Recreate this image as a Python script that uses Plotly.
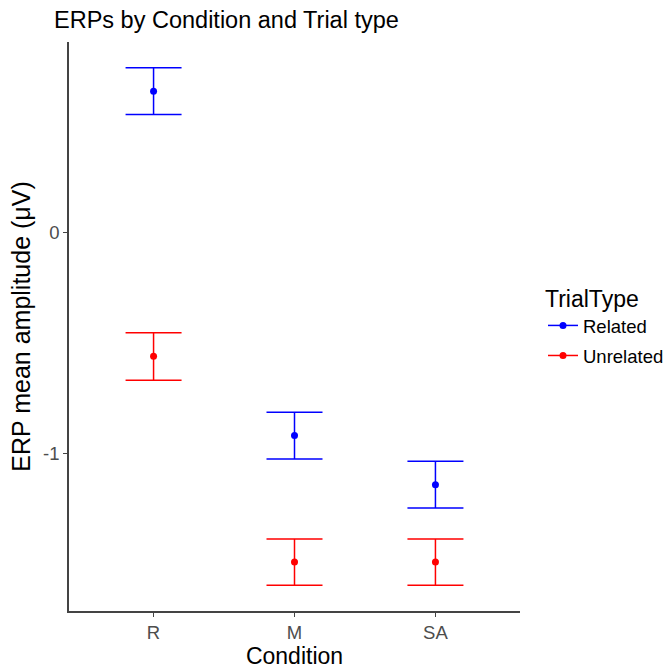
import plotly.graph_objects as go

# ---- data ----
conditions = ["R", "M", "SA"]
related_mean = [0.636, -0.918, -1.140]
related_upper = [0.742, -0.813, -1.034]
related_lower = [0.531, -1.024, -1.245]
unrelated_mean = [-0.560, -1.488, -1.488]
unrelated_upper = [-0.454, -1.385, -1.385]
unrelated_lower = [-0.668, -1.593, -1.593]
y_tick_vals = [-1, 0]
y_tick_text = ["-1", "0"]

FONT = "Liberation Sans, Arial, sans-serif"
series = [
    ("Related", related_mean, related_upper, related_lower, "#0000FF"),
    ("Unrelated", unrelated_mean, unrelated_upper, unrelated_lower, "#FF0000"),
]

fig = go.Figure()
for name, m, up, lo, col in series:
    fig.add_trace(go.Scatter(
        x=conditions, y=m, mode="markers", name=name, showlegend=False,
        marker=dict(color=col, size=7),
        error_y=dict(type="data", symmetric=False,
                     array=[u - v for u, v in zip(up, m)],
                     arrayminus=[v - l for v, l in zip(m, lo)],
                     color=col, thickness=1.5, width=28),
    ))
for name, m, up, lo, col in series:
    fig.add_trace(go.Scatter(
        x=[None], y=[None], mode="lines+markers", name=name, legendgroup=name,
        line=dict(color=col, width=1.5), marker=dict(color=col, size=7),
    ))

all_vals = related_upper + related_lower + unrelated_upper + unrelated_lower
lo_v, hi_v = min(all_vals), max(all_vals)
pad = 0.05 * (hi_v - lo_v)

fig.update_layout(
    width=664, height=669,
    margin=dict(l=69, r=144, t=42, b=58, autoexpand=False),
    plot_bgcolor="white", paper_bgcolor="white",
    font=dict(family=FONT, color="black"),
    title=dict(text="ERPs by Condition and Trial type", x=54 / 664, xref="container",
               xanchor="left", y=1 - 20 / 669, yref="container", yanchor="middle",
               font=dict(size=23.5, color="black")),
    xaxis=dict(type="category", categoryorder="array", categoryarray=conditions,
               range=[-0.6, len(conditions) - 0.4], automargin=False,
               showline=True, linecolor="#444", linewidth=1.5, mirror=False,
               ticks="outside", ticklen=4, tickcolor="#444", tickwidth=1,
               showgrid=False, zeroline=False,
               tickfont=dict(size=18.5, color="#4D4D4D"),
               title=dict(text="Condition", font=dict(size=23, color="black"), standoff=9)),
    yaxis=dict(range=[lo_v - pad, hi_v + pad], tickvals=y_tick_vals, ticktext=y_tick_text,
               automargin=False,
               showline=True, linecolor="#444", linewidth=1.5,
               ticks="outside", ticklen=4, tickcolor="#444", tickwidth=1,
               showgrid=False, zeroline=False,
               tickfont=dict(size=18.5, color="#4D4D4D"),
               title=dict(text="ERP mean amplitude (μV)", font=dict(size=25, color="black"), standoff=5)),
    legend=dict(x=543 / 664, xref="container", xanchor="left",
                y=1 - 277 / 669, yref="container", yanchor="top",
                title=dict(text="TrialType", font=dict(size=23, color="black")),
                font=dict(size=18.5, color="black"), tracegroupgap=3,
                bgcolor="rgba(0,0,0,0)"),
)

fig.write_html("out.html")
